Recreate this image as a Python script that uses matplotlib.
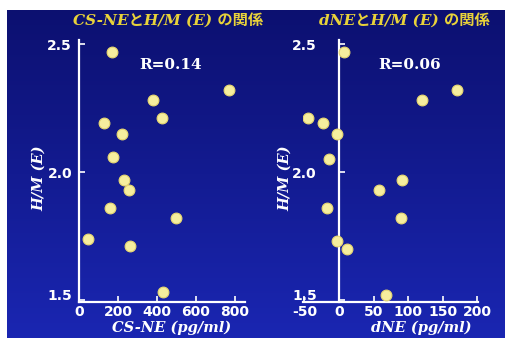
import numpy as np
import matplotlib
matplotlib.use("Agg")
import matplotlib.pyplot as plt

plt.rcParams["axes.unicode_minus"] = False

# Data
csne_x = [169, 769, 380, 425, 128, 220, 175, 231, 256, 159, 497, 46, 262, 431]
csne_y = [2.47, 2.32, 2.28, 2.21, 2.19, 2.15, 2.06, 1.97, 1.93, 1.86, 1.82, 1.74, 1.71, 1.53]
dne_x = [7, 170, 120, -45, -23, -3, -14, 91, 58, -17, 90, -3, 12, 68]
dne_y = [2.47, 2.32, 2.28, 2.21, 2.19, 2.15, 2.05, 1.97, 1.93, 1.86, 1.82, 1.73, 1.70, 1.52]
left_xticks = [0, 200, 400, 600, 800]
right_xticks = [-50, 0, 50, 100, 150, 200]
yticks = [1.5, 2.0, 2.5]
titles = ["CS-NEとH/M (E) の関係", "dNEとH/M (E) の関係"]
xlabels = ["CS-NE (pg/ml)", "dNE (pg/ml)"]
ylabel = "H/M (E)"
r_texts = ["R=0.14", "R=0.06"]

W, H = 505, 338
fig = plt.figure(figsize=(W / 100, H / 100), dpi=100)
fig.patch.set_facecolor("white")

# Blue background panel with gradient
bg = fig.add_axes([7 / W, 0, 1 - 7 / W, 1 - 10 / H])
bg.set_axis_off()
grad = np.linspace(0, 1, 256).reshape(-1, 1)
top = np.array([12, 16, 112]) / 255
bot = np.array([26, 38, 178]) / 255
img = top[None, None, :] * (1 - grad[:, :, None]) + bot[None, None, :] * grad[:, :, None]
bg.imshow(img, aspect="auto", extent=[0, 1, 0, 1], origin="upper")

serif = ["DejaVu Serif", "Noto Sans CJK JP"]
white = "white"
dot_face = "#f6ee9e"
dot_edge = "#e8d870"


def px_to_fig(x0, x1, y_top, y_bot):
    return [x0 / W, (H - y_bot) / H, (x1 - x0) / W, (y_bot - y_top) / H]


ylim = (1.492, 2.516)

# Left panel
ax1 = fig.add_axes(px_to_fig(79, 245, 40, 302))
ax1.set_xlim(0, 851)
ax1.set_ylim(*ylim)
ax1.scatter(csne_x, csne_y, s=60, c=dot_face, edgecolors=dot_edge, linewidths=0.8, zorder=3)
ax1.set_xticks(left_xticks)

# Right panel
ax2 = fig.add_axes(px_to_fig(303, 478, 40, 302))
ax2.set_xlim(-52, 201)
ax2.set_ylim(*ylim)
ax2.scatter(dne_x, dne_y, s=60, c=dot_face, edgecolors=dot_edge, linewidths=0.8, zorder=3)
ax2.set_xticks(right_xticks)
ax2.spines["left"].set_position(("data", 0))

for ax, pad in ((ax1, 5), (ax2, 16)):
    ax.patch.set_alpha(0)
    for s in ("top", "right"):
        ax.spines[s].set_visible(False)
    for s in ("left", "bottom"):
        ax.spines[s].set_color(white)
        ax.spines[s].set_linewidth(1.6)
    ax.set_yticks(yticks)
    ax.set_yticklabels([f"{v:.1f}" for v in yticks])
    ax.tick_params(axis="both", direction="in", colors=white, length=4, width=1.2,
                   labelsize=10)
    ax.tick_params(axis="y", pad=pad)
    ax.tick_params(axis="x", pad=2)
    for lab in ax.get_xticklabels() + ax.get_yticklabels():
        lab.set_fontweight("bold")
        lab.set_fontfamily(["DejaVu Sans"])
    ax.get_yticklabels()[0].set_verticalalignment("baseline")

# Titles
title_color = "#e8d23a"
fig.text(168 / W, 1 - 20 / H, titles[0], color=title_color, fontsize=11, style="italic",
         fontweight="bold", family=serif, ha="center", va="center")
fig.text(404 / W, 1 - 20 / H, titles[1], color=title_color, fontsize=11, style="italic",
         fontweight="bold", family=serif, ha="center", va="center")

# R values
fig.text(171 / W, 1 - 65 / H, r_texts[0], color=white, fontsize=11, fontweight="bold",
         family=["DejaVu Serif"], ha="center", va="center")
fig.text(410 / W, 1 - 65 / H, r_texts[1], color=white, fontsize=11, fontweight="bold",
         family=["DejaVu Serif"], ha="center", va="center")

# Axis labels
for xp in (39, 285):
    fig.text(xp / W, 1 - 178 / H, ylabel, color=white, fontsize=10.5, style="italic",
             fontweight="bold", family=["DejaVu Serif"], rotation=90,
             ha="center", va="center")
fig.text(172 / W, 3 / H, xlabels[0], color=white, fontsize=10.5, style="italic",
         fontweight="bold", family=["DejaVu Serif"], ha="center", va="bottom")
fig.text(421 / W, 3 / H, xlabels[1], color=white, fontsize=10.5, style="italic",
         fontweight="bold", family=["DejaVu Serif"], ha="center", va="bottom")

fig.savefig("out.png", dpi=100, facecolor=fig.get_facecolor())
